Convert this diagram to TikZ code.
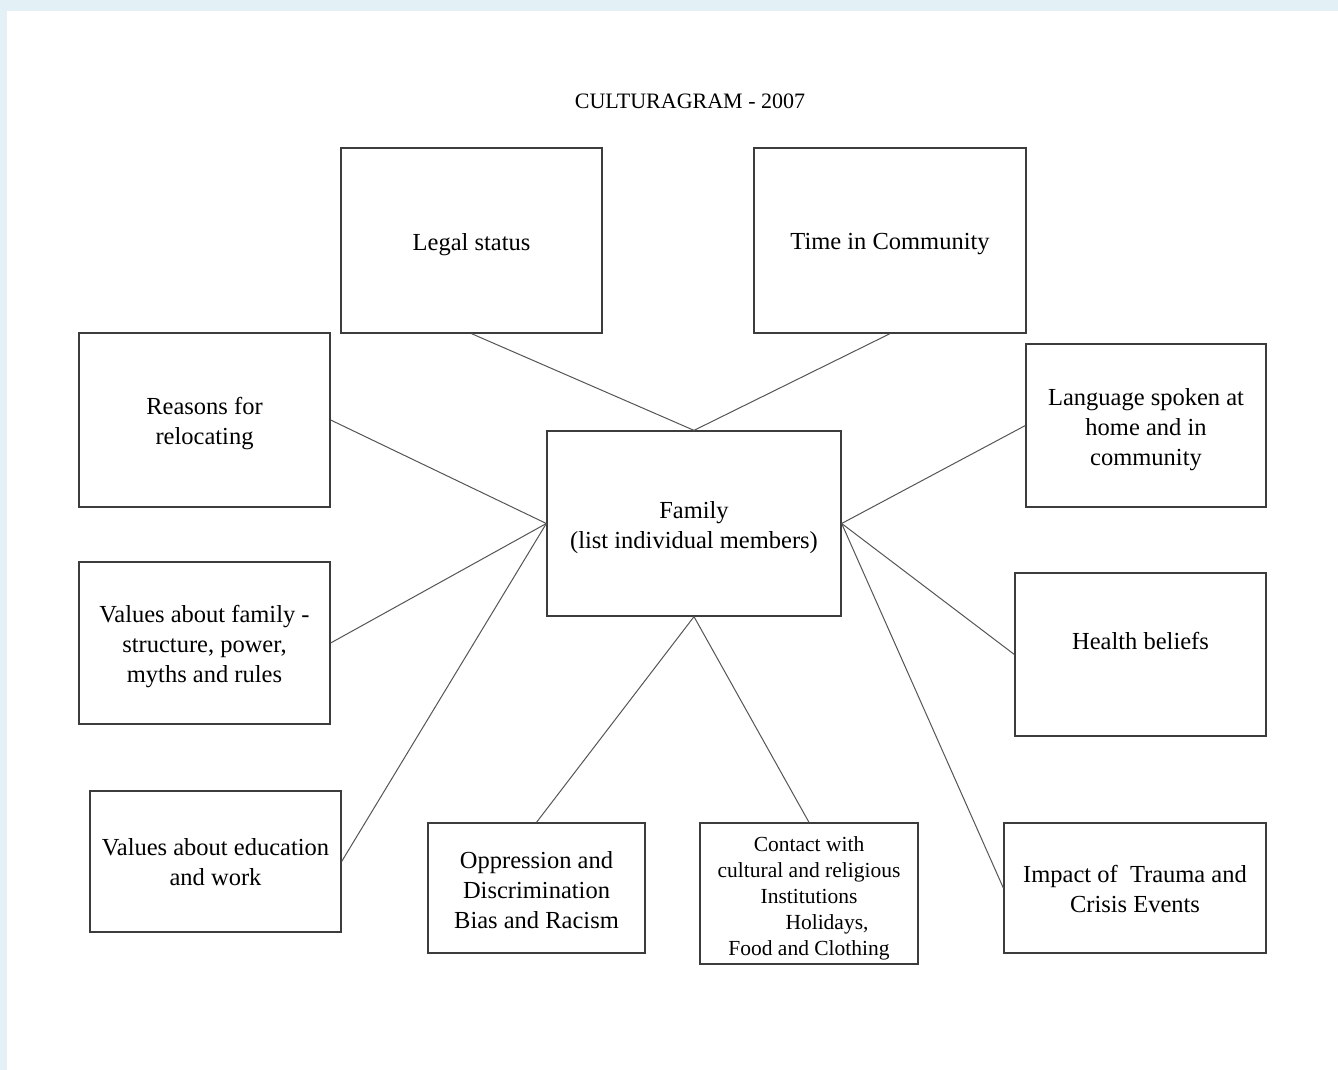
\documentclass[tikz,border=0pt]{standalone}
\usepackage{fontspec}
\setmainfont{Liberation Serif}
\definecolor{pageblue}{HTML}{E3F0F6}
\definecolor{boxline}{HTML}{3C3C3C}
\definecolor{linkline}{HTML}{555555}
\tikzset{
  box/.style={draw=boxline, line width=1.3pt, fill=white, inner sep=0pt},
  boxtext/.style={inner sep=0pt, align=center, font=\fontsize{24.5}{30}\selectfont},
  smalltext/.style={boxtext, font=\fontsize{21.5}{26}\selectfont},
  link/.style={draw=linkline, line width=1pt},
}
% #1 text style, #2-#5 left/top/right/bottom, #6 name, #7 text drop, #8 text
\newcommand{\boxat}[8][boxtext]{%
  \node[box, minimum width=#4pt-#2pt, minimum height=#5pt-#3pt] (#6)
    at ({(#2+#4)/2}, {(#3+#5)/2}) {};
  \node[#1] (#6-text) at ([yshift=-#7pt]#6.center) {#8};}
\begin{document}
\begin{tikzpicture}[x=1pt, y=-1pt]
  % page background and frame
  \fill[pageblue] (0,0) rectangle (1338,1070);
  \fill[white] (7,11) rectangle (1338,1070);
  \useasboundingbox (0,0) rectangle (1338,1070);

  \node[font=\fontsize{22}{26}\selectfont] (title) at (690,101) {CULTURAGRAM - 2007};

  % boxes: left, top, right, bottom
  \boxat{341}{148}{602}{333}{legal}{4}{Legal status}
  \boxat{754}{148}{1026}{333}{time}{4}{Time in Community}
  \boxat{79}{333}{330}{507}{reasons}{4}{Reasons for\\relocating}
  \boxat{547}{431}{841}{616}{family}{4}{Family\\(list individual members)}
  \boxat{1026}{344}{1266}{507}{lang}{4}{Language spoken at\\home and in\\community}
  \boxat{79}{562}{330}{724}{valfam}{4}{Values about family -\\structure, power,\\myths and rules}
  \boxat{1015}{573}{1266}{736}{health}{-14}{Health beliefs}
  \boxat{90}{791}{341}{932}{valedu}{1}{Values about education\\and work}
  \boxat{428}{823}{645}{953}{oppr}{2}{Oppression and\\Discrimination\\Bias and Racism}
  \boxat[smalltext]{700}{823}{918}{964}{contact}{5}{Contact with\\cultural and religious\\Institutions\\\hspace*{36pt}Holidays,\\Food and Clothing}
  \boxat{1004}{823}{1266}{953}{impact}{1}{Impact of\ \ Trauma and\\Crisis Events}

  % connectors to the family box
  \draw[link] (legal.south) -- (family.north);
  \draw[link] (time.south) -- (family.north);
  \draw[link] (reasons.east) -- (family.west);
  \draw[link] (valfam.east) -- (family.west);
  \draw[link] (valedu.east) -- (family.west);
  \draw[link] (oppr.north) -- (family.south);
  \draw[link] (contact.north) -- (family.south);
  \draw[link] (lang.west) -- (family.east);
  \draw[link] (health.west) -- (family.east);
  \draw[link] (impact.west) -- (family.east);
\end{tikzpicture}
\end{document}
